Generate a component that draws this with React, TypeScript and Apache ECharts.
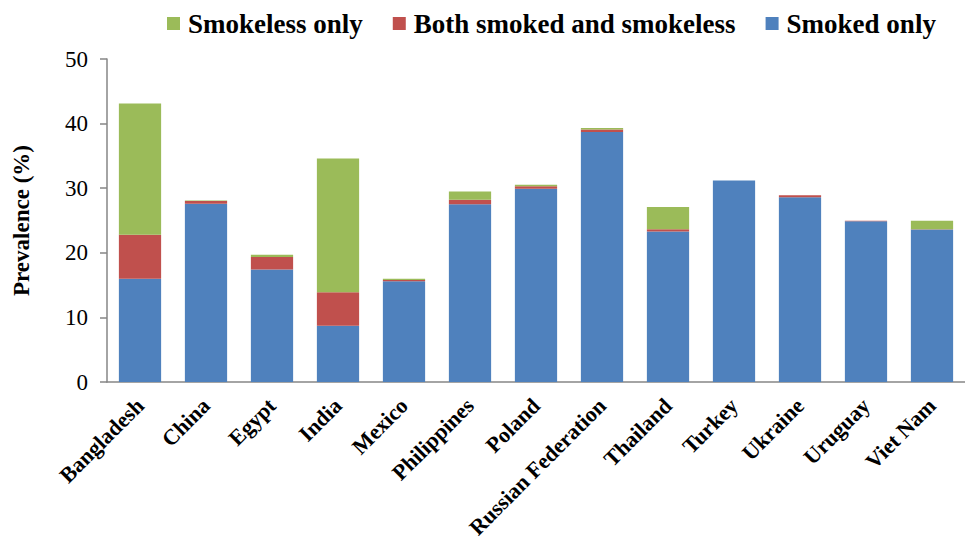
import React, { useEffect, useRef } from "react";
import * as echarts from "echarts";

const countries = [
  "Bangladesh", "China", "Egypt", "India", "Mexico", "Philippines", "Poland",
  "Russian Federation", "Thailand", "Turkey", "Ukraine", "Uruguay", "Viet Nam",
];
const smokedOnly = [16.0, 27.6, 17.4, 8.7, 15.6, 27.5, 29.9, 38.7, 23.3, 31.2, 28.6, 24.9, 23.6];
const bothSmokedSmokeless = [6.8, 0.4, 1.95, 5.2, 0.2, 0.7, 0.4, 0.4, 0.35, 0.0, 0.3, 0.05, 0.05];
const smokelessOnly = [20.3, 0.1, 0.35, 20.7, 0.2, 1.3, 0.25, 0.2, 3.45, 0.0, 0.0, 0.0, 1.3];
const yTicks = { min: 0, max: 50, interval: 10 };

const FONT = "'Times New Roman', 'Liberation Serif', serif";

export default function App() {
  const ref = useRef<HTMLDivElement>(null);
  useEffect(() => {
    if (!ref.current) return;
    const chart = echarts.init(ref.current, undefined, { renderer: "svg" });
    chart.setOption({
      animation: false,
      textStyle: { fontFamily: FONT },
      legend: {
        data: ["Smokeless only", "Both smoked and smokeless", "Smoked only"],
        left: 167,
        top: 10,
        padding: 0,
        itemWidth: 13,
        itemHeight: 13,
        itemGap: 30,
        icon: "rect",
        textStyle: { fontFamily: FONT, fontSize: 27, fontWeight: "bold", color: "#000", padding: [0, 0, 0, 3] },
      },
      grid: { left: 107, top: 59, width: 863, height: 323, containLabel: false },
      xAxis: {
        type: "category",
        data: countries,
        axisLine: { lineStyle: { color: "#868686", width: 1.5 } },
        axisTick: { show: false },
        axisLabel: {
          rotate: 45,
          interval: 0,
          margin: 20,
          fontFamily: FONT,
          fontSize: 22,
          fontWeight: "bold",
          color: "#000",
        },
      },
      yAxis: {
        type: "value",
        min: yTicks.min,
        max: yTicks.max,
        interval: yTicks.interval,
        name: "Prevalence (%)",
        nameLocation: "middle",
        nameRotate: 90,
        nameGap: 74,
        nameTextStyle: { fontFamily: FONT, fontSize: 23, fontWeight: "bold", color: "#000" },
        axisLine: { show: true, lineStyle: { color: "#868686", width: 1.5 } },
        axisTick: { show: true, inside: false, length: 7, lineStyle: { color: "#868686", width: 1.5 } },
        splitLine: { show: false },
        axisLabel: { margin: 19, fontFamily: FONT, fontSize: 23, color: "#000" },
      },
      series: [
        {
          name: "Smoked only",
          type: "bar",
          stack: "total",
          data: smokedOnly,
          barWidth: "64%",
          itemStyle: { color: "#4F81BD" },
        },
        {
          name: "Both smoked and smokeless",
          type: "bar",
          stack: "total",
          data: bothSmokedSmokeless,
          itemStyle: { color: "#C0504D" },
        },
        {
          name: "Smokeless only",
          type: "bar",
          stack: "total",
          data: smokelessOnly,
          itemStyle: { color: "#9BBB59" },
        },
      ],
    });
    return () => chart.dispose();
  }, []);
  return <div ref={ref} style={{ width: 965, height: 543, position: "absolute", left: 0, top: 0 }} />;
}
